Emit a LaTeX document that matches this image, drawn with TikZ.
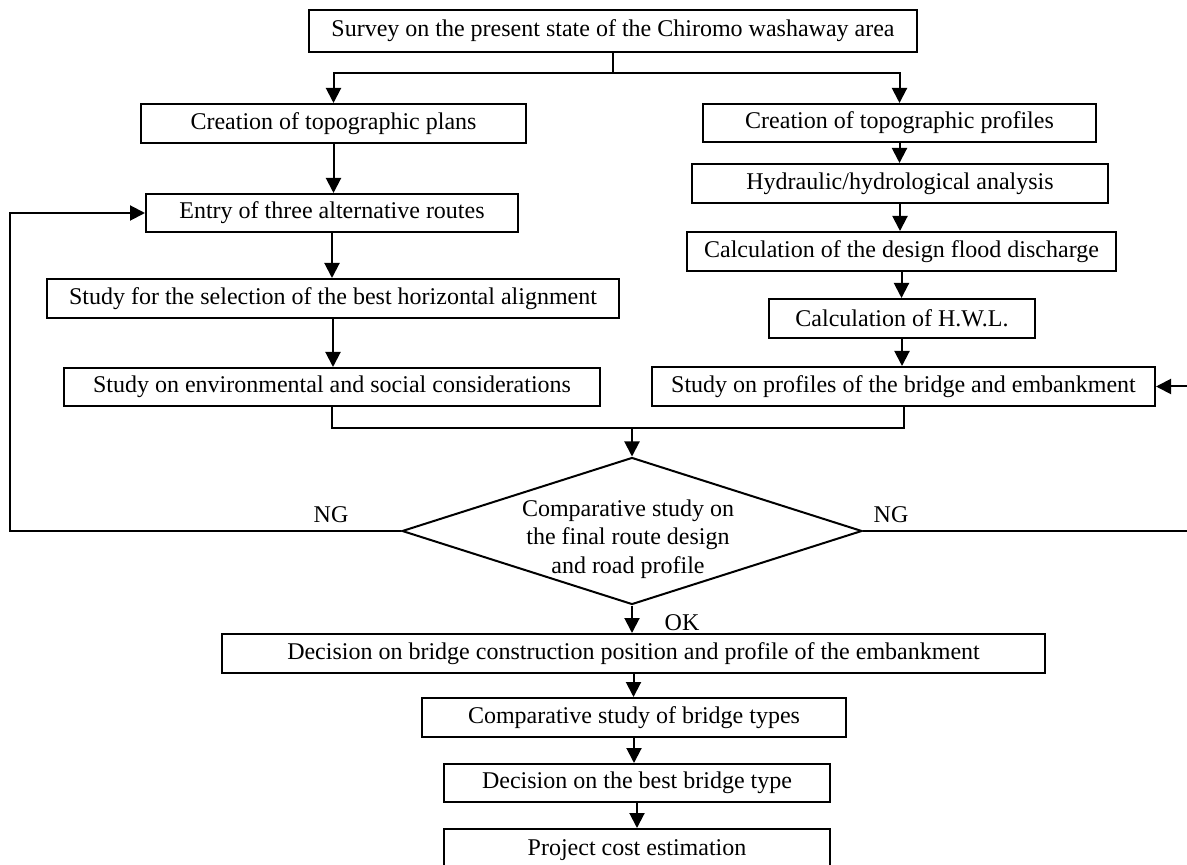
\documentclass[tikz,border=0pt]{standalone}
\usepackage{fontspec}
\setmainfont{Liberation Serif}
\usetikzlibrary{arrows.meta,shapes.geometric}
\newcommand{\fs}{\fontsize{12}{14.25}\selectfont}
\tikzset{
  bx/.style={draw, line width=1pt, rectangle, inner sep=0pt, font=\fs},
  ln/.style={line width=1pt},
  arr/.style={line width=1pt, -{Triangle[length=7.5pt,width=7.5pt]}},
  lbl/.style={inner sep=0pt, font=\fs}
}
\begin{document}
\begin{tikzpicture}[x=0.5pt,y=-0.5pt]
\useasboundingbox (0,0) rectangle (1187,865);
\fill[white] (0,0) rectangle (1187,865);

\node[bx, minimum width=304pt, minimum height=21pt] (survey) at (613,31) {Survey on the present state of the Chiromo washaway area};
\node[bx, minimum width=192.5pt, minimum height=19.5pt] (plans) at (333.5,123.5) {Creation of topographic plans};
\node[bx, minimum width=196.5pt, minimum height=19pt] (prof1) at (899.5,123) {Creation of topographic profiles};
\node[bx, minimum width=186pt, minimum height=19pt] (entry) at (332,213) {Entry of three alternative routes};
\node[bx, minimum width=286pt, minimum height=19.5pt] (select) at (333,298.5) {Study for the selection of the best horizontal alignment};
\node[bx, minimum width=268pt, minimum height=19pt] (env) at (332,387) {Study on environmental and social considerations};
\node[bx, minimum width=208pt, minimum height=19.5pt] (hydro) at (900,183.5) {Hydraulic/hydrological analysis};
\node[bx, minimum width=214.5pt, minimum height=19.5pt] (design) at (901.5,251.5) {Calculation of the design flood discharge};
\node[bx, minimum width=133pt, minimum height=19.5pt] (hwl) at (902,318.5) {Calculation of H.W.L.};
\node[bx, minimum width=251.5pt, minimum height=19.5pt] (prof) at (903.5,386.5) {Study on profiles of the bridge and embankment};
\node[draw, line width=1pt, diamond, inner sep=0pt, minimum width=230pt, minimum height=73.5pt] (dia) at (632,531) {};
\node[lbl, align=center] (dtext) at (628,539) {Comparative study on\\the final route design\\and road profile};
\node[bx, minimum width=411.5pt, minimum height=19.5pt] (decide) at (633.5,653.5) {Decision on bridge construction position and profile of the embankment};
\node[bx, minimum width=212pt, minimum height=19.5pt] (types) at (634,717.5) {Comparative study of bridge types};
\node[bx, minimum width=193pt, minimum height=19pt] (best) at (637,783) {Decision on the best bridge type};
\node[bx, minimum width=193pt, minimum height=21pt] (cost) at (637,850) {Project cost estimation};

\node[lbl] (ngl) at (331,515) {NG};
\node[lbl] (ngr) at (891,515) {NG};
\node[lbl] (ok) at (682,623) {OK};

% top split
\coordinate (j1) at (613,73);
\draw[ln] (survey.south) -- (j1);
\draw[arr] (j1) -| (plans.north);
\draw[arr] (j1) -| (prof1.north);

% left column
\draw[arr] (plans.south) -- (plans.south |- entry.north);
\draw[arr] (entry.south) -- (entry.south |- select.north);
\draw[arr] (select.south) -- (select.south |- env.north);

% right column
\draw[arr] (prof1.south) -- (prof1.south |- hydro.north);
\draw[arr] (hydro.south) -- (hydro.south |- design.north);
\draw[arr] (design.south) -- (design.south |- hwl.north);
\draw[arr] (hwl.south) -- (hwl.south |- prof.north);

% join
\coordinate (jm) at (632,428);
\draw[ln] (env.south) |- (jm) -| (prof.south);
\draw[arr] (jm) -- (dia.north);

% NG loops
\coordinate (nl) at (10,531);
\draw[arr] (dia.west) -- (nl) |- (entry.west);
\coordinate (nr) at (1200,531);
\draw[arr] (dia.east) -- (nr) |- (prof.east);

% bottom chain
\draw[arr] (dia.south) -- (dia.south |- decide.north);
\draw[arr] (decide.south) -- (decide.south |- types.north);
\draw[arr] (types.south) -- (types.south |- best.north);
\draw[arr] (best.south) -- (best.south |- cost.north);
\end{tikzpicture}
\end{document}
